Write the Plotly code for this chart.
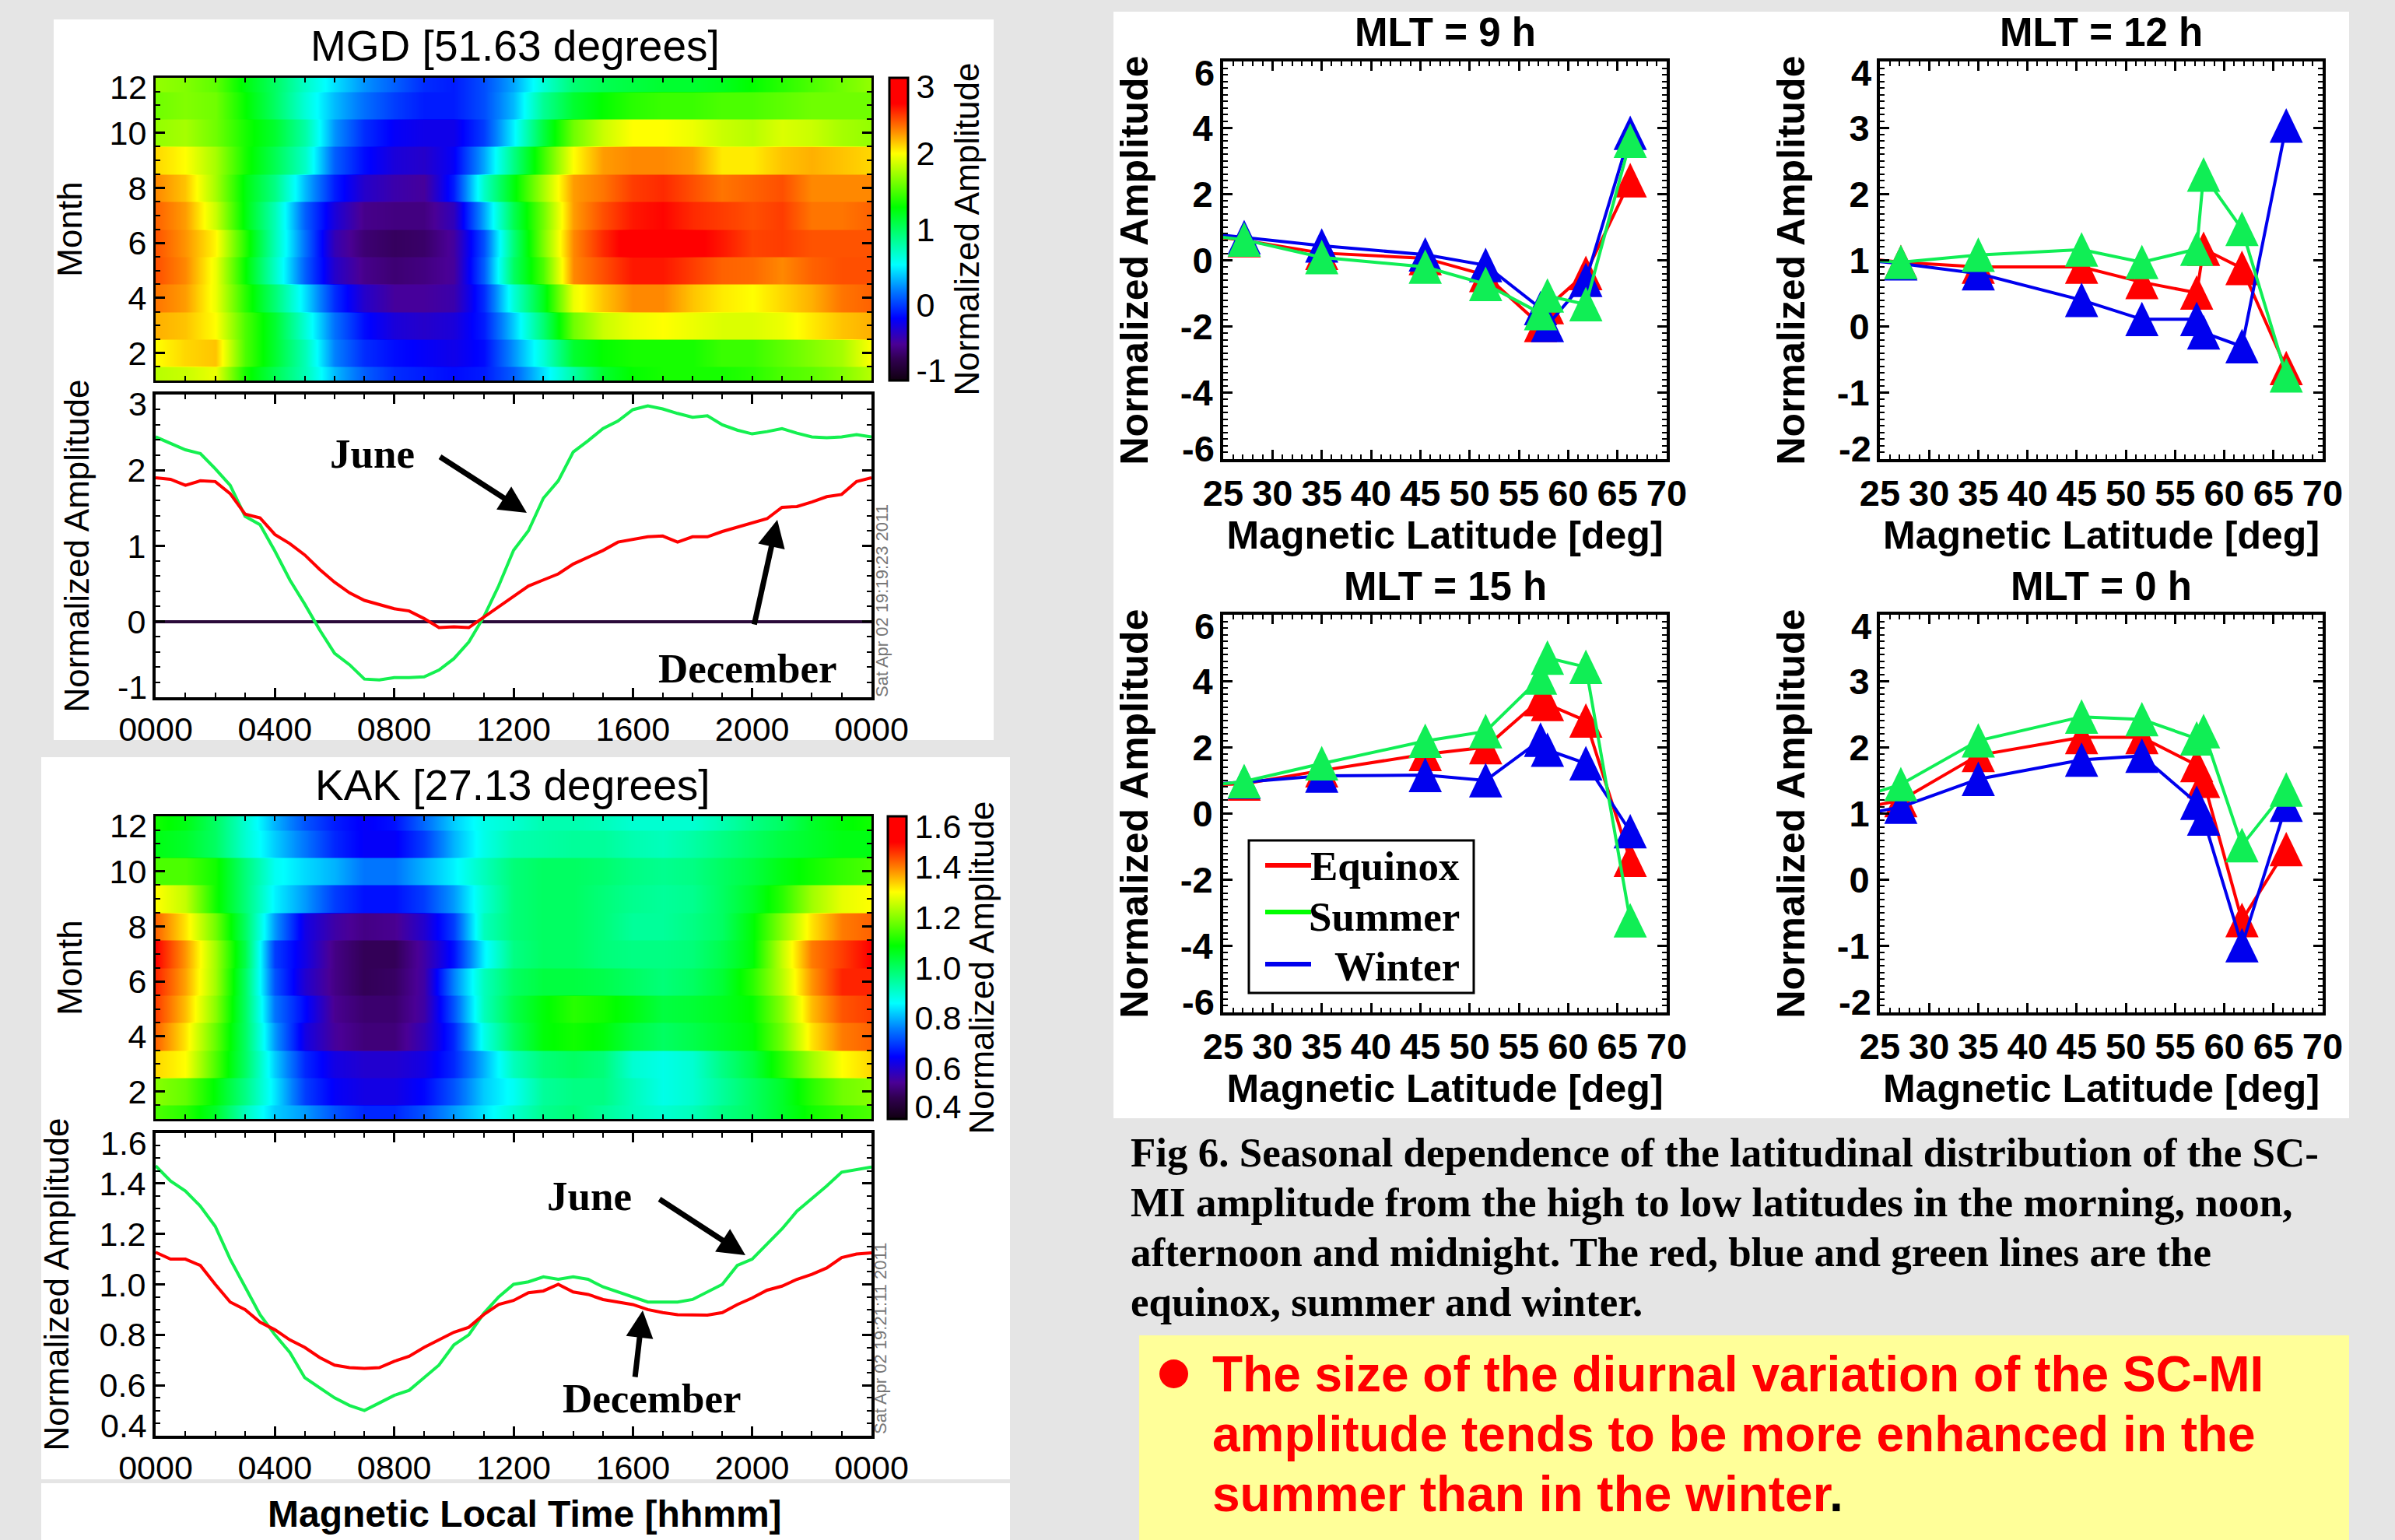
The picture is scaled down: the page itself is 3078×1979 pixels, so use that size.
import numpy as np
import plotly.graph_objects as go

W, H = 3078, 1979
SANS = "Liberation Sans"
SERIF = "Liberation Serif"
GRAY = "#e5e5e5"

# ---------- data ----------
months = list(range(1, 13))
hours = list(range(0, 25))

mgd_rows = [
 [1.8,1.85,1.95,1.35,1.05,.75,.35,.1,-.05,-.1,-.15,-.1,.1,.45,.8,1.15,1.3,1.35,1.35,1.35,1.4,1.5,1.55,1.65,1.8],
 [2.0,2.1,2.15,1.5,1.15,.75,.2,-.05,-.15,-.2,-.25,-.15,.25,.65,1.15,1.3,1.35,1.35,1.35,1.45,1.45,1.55,1.65,1.75,2.0],
 [2.2,2.15,2.0,1.5,1.15,.65,.15,-.15,-.3,-.35,-.3,-.1,.4,.95,1.6,1.85,1.95,2.0,1.95,1.9,1.9,1.95,2.05,2.15,2.2],
 [2.35,2.25,1.95,1.4,.95,.45,-.05,-.35,-.5,-.5,-.45,-.05,.65,1.2,1.95,2.15,2.3,2.3,2.15,2.05,2.0,2.1,2.2,2.35,2.4],
 [2.45,2.3,1.95,1.3,.7,.1,-.35,-.55,-.62,-.58,-.5,.1,1.0,1.5,2.3,2.45,2.6,2.6,2.5,2.4,2.38,2.3,2.4,2.45,2.45],
 [2.44,2.27,2.02,1.39,.75,.15,-.42,-.62,-.68,-.65,-.49,.06,.94,1.63,2.3,2.55,2.75,2.78,2.7,2.6,2.48,2.5,2.44,2.44,2.44],
 [2.4,2.25,1.85,1.25,.75,.1,-.3,-.55,-.58,-.58,-.4,.3,1.05,1.6,2.25,2.45,2.6,2.65,2.55,2.5,2.45,2.5,2.35,2.35,2.4],
 [2.3,2.15,1.75,1.25,.9,.35,-.1,-.35,-.45,-.5,-.1,.7,1.25,1.75,2.25,2.35,2.5,2.55,2.45,2.35,2.4,2.45,2.3,2.3,2.3],
 [2.1,2.0,1.75,1.35,1.05,.7,.1,-.15,-.3,-.35,-.2,.3,.9,1.45,2.0,2.25,2.3,2.3,2.25,2.05,2.05,2.15,2.2,2.15,2.1],
 [1.7,1.75,1.6,1.35,1.15,.8,.25,-.05,-.2,-.25,-.25,0,.5,1.1,1.6,1.85,2.0,2.0,1.95,1.85,1.8,1.9,1.85,1.75,1.7],
 [1.6,1.65,1.6,1.3,1.0,.65,.35,.15,0,-.1,-.1,.05,.35,.85,1.15,1.3,1.4,1.45,1.45,1.5,1.5,1.55,1.6,1.6,1.6],
 [1.7,1.65,1.55,1.25,1.0,.7,.45,.25,.1,-.05,-.1,.05,.3,.65,.95,1.05,1.1,1.15,1.15,1.2,1.3,1.4,1.5,1.6,1.7],
]
kak_rows = [
 [1.15,1.12,1.05,.92,.82,.78,.72,.68,.68,.72,.78,.84,.9,.96,.98,.95,.92,.9,.92,.97,1.0,1.05,1.1,1.13,1.15],
 [1.2,1.17,1.08,.97,.84,.7,.64,.62,.62,.65,.72,.82,.87,.95,.97,.97,.92,.88,.9,.95,1.0,1.05,1.12,1.18,1.2],
 [1.33,1.3,1.15,1.0,.82,.68,.62,.6,.6,.62,.68,.8,.92,.98,1.0,.98,.9,.88,.9,.97,1.03,1.12,1.22,1.3,1.33],
 [1.42,1.32,1.17,1.0,.78,.62,.55,.52,.52,.58,.68,.88,1.0,1.08,1.1,1.08,1.03,1.0,1.02,1.05,1.08,1.18,1.32,1.4,1.42],
 [1.45,1.35,1.2,1.0,.75,.65,.54,.51,.51,.56,.72,.92,1.02,1.08,1.12,1.1,1.07,1.03,1.04,1.06,1.09,1.2,1.35,1.43,1.45],
 [1.47,1.37,1.22,1.0,.72,.6,.53,.49,.5,.56,.76,.92,1.0,1.03,1.03,1.02,1.0,.98,1.0,1.04,1.12,1.24,1.38,1.47,1.47],
 [1.5,1.38,1.22,1.02,.7,.62,.53,.49,.49,.56,.66,.85,.97,1.0,1.0,.98,.97,.97,.98,1.02,1.08,1.25,1.4,1.45,1.5],
 [1.42,1.32,1.18,1.0,.78,.62,.56,.53,.54,.6,.7,.92,.98,1.0,1.0,.98,.95,.95,.97,1.0,1.08,1.2,1.32,1.4,1.42],
 [1.3,1.25,1.1,.98,.85,.78,.7,.66,.66,.7,.78,.9,.98,1.0,1.0,.98,.96,.95,.96,1.0,1.05,1.12,1.22,1.28,1.3],
 [1.15,1.15,1.1,.98,.87,.83,.8,.75,.75,.8,.85,.92,.98,1.0,1.0,.99,.97,.96,.97,1.0,1.03,1.07,1.1,1.13,1.15],
 [1.07,1.05,1.0,.9,.82,.75,.68,.64,.64,.7,.8,.88,.93,.94,.95,.95,.93,.92,.94,.97,1.0,1.03,1.05,1.07,1.07],
 [1.1,1.07,1.0,.9,.8,.72,.67,.64,.66,.74,.82,.88,.9,.93,.93,.92,.9,.9,.9,.93,.97,1.0,1.05,1.08,1.1],
]

half_hours = [i / 2 for i in range(49)]
mgd_june = [2.44,2.36,2.27,2.22,2.02,1.80,1.39,1.28,.93,.55,.23,-.11,-.42,-.57,-.76,-.77,-.74,-.74,-.73,-.64,-.49,-.27,.06,.47,.94,1.2,1.63,1.86,2.24,2.39,2.55,2.65,2.8,2.85,2.81,2.75,2.70,2.72,2.60,2.53,2.48,2.51,2.55,2.49,2.44,2.43,2.44,2.47,2.44]
mgd_dec = [1.90,1.88,1.80,1.86,1.85,1.69,1.42,1.37,1.15,1.03,.88,.69,.52,.38,.28,.23,.17,.14,.04,-.08,-.07,-.08,.06,.19,.33,.47,.55,.63,.76,.85,.94,1.05,1.09,1.12,1.13,1.05,1.12,1.12,1.19,1.25,1.31,1.36,1.51,1.52,1.58,1.65,1.68,1.85,1.90]
kak_june = [1.47,1.41,1.37,1.31,1.23,1.10,.99,.88,.80,.73,.63,.59,.55,.52,.50,.53,.56,.58,.63,.68,.76,.80,.885,.95,1.0,1.01,1.03,1.02,1.03,1.02,.99,.97,.95,.93,.93,.93,.94,.97,1.0,1.075,1.10,1.16,1.22,1.29,1.34,1.39,1.445,1.455,1.465]
kak_dec = [1.127,1.10,1.10,1.075,1.00,.93,.90,.85,.82,.78,.75,.71,.68,.67,.667,.67,.695,.715,.75,.78,.81,.83,.88,.92,.936,.967,.974,1.0,.97,.96,.94,.93,.92,.90,.888,.88,.878,.878,.888,.92,.946,.977,.993,1.02,1.04,1.065,1.106,1.12,1.125]

hhmm_labels = ["0000", "0400", "0800", "1200", "1600", "2000", "0000"]

latitudes = [22.0, 27.13, 35.0, 45.5, 51.63, 57.2, 57.9, 61.8, 66.3]
mlt9 = dict(
 eq=[.80,.60,.22,.06,-.45,-1.96,-1.42,-.39,2.41],
 wi=[.85,.69,.44,.17,-.15,-1.45,-1.96,-.6,3.84],
 su=[.80,.62,.09,-.2,-.72,-1.6,-1.07,-1.33,3.6])
mlt12 = dict(
 eq=[1.05,.97,.9,.9,.67,.51,1.17,.88,-.63],
 wi=[1.02,.95,.8,.4,.11,.11,-.09,-.3,3.03],
 su=[1.02,.97,1.08,1.16,.97,1.17,2.29,1.47,-.74])
mlt15 = dict(
 eq=[.85,.9,1.3,1.79,2.0,3.45,3.3,2.8,-1.4],
 wi=[.85,.95,1.14,1.16,1.0,2.22,1.92,1.51,-.54],
 su=[.80,.97,1.51,2.19,2.48,4.1,4.7,4.42,-3.23])
mlt0 = dict(
 eq=[1.05,1.2,1.88,2.15,2.15,1.73,1.49,-.61,.46],
 wi=[.95,1.1,1.52,1.81,1.87,1.16,.92,-.99,1.13],
 su=[1.2,1.44,2.1,2.46,2.42,2.13,2.24,.52,1.36])

stops = [(0, "#100010"), (.07, "#300050"), (.12, "#4a0095"), (.205, "#0000ff"), (.30, "#0080ff"),
         (.3825, "#00ffff"), (.4775, "#00ff80"), (.5725, "#00ff00"), (.75, "#ffff00"),
         (.83, "#ff8000"), (.915, "#ff0000"), (1, "#ff0000")]

# ---------- helpers ----------
def fx(p): return p / W
def fy(p): return 1 - p / H
def xid(n): return "x" if n == 1 else f"x{n}"
def yid(n): return "y" if n == 1 else f"y{n}"
def font(size, bold=False, family=SANS, color="black"):
    return dict(size=size, family=family, color=color, weight="bold" if bold else "normal")

fig = go.Figure()
layout = dict(width=W, height=H, margin=dict(l=0, r=0, t=0, b=0, autoexpand=False), autosize=False,
              template="none", paper_bgcolor=GRAY, plot_bgcolor="white", showlegend=False)
anns, shapes = [], []

def text(t, x, y, size, bold=False, family=SANS, color="black", angle=0, anchor="center"):
    anns.append(dict(text=t, x=fx(x), y=fy(y), xref="paper", yref="paper", showarrow=False,
                     xanchor=anchor, yanchor="middle", font=font(size, bold, family, color), textangle=angle))

def arrow(x0, y0, x1, y1):
    anns.append(dict(text="", x=fx(x1), y=fy(y1), xref="paper", yref="paper", showarrow=True,
                     ax=x0 - x1, ay=y0 - y1, arrowhead=2, arrowsize=1.0, arrowwidth=7, arrowcolor="black", standoff=0))

def rect(x0, y0, x1, y1, color):
    shapes.append(dict(type="rect", xref="paper", yref="paper", x0=fx(x0), x1=fx(x1), y0=fy(y0), y1=fy(y1),
                       fillcolor=color, line_width=0, layer="below"))

def axes(n, box, xr, yr, xmajor, xminor, ymajor, yminor, xlab=None, ylab=None, yshift=(0, 0),
         size=43, bold=False, lw=3, ytitle=None, ystand=0, xtitle=None, xstand=0, tsize=44, tlen=12):
    x0, y0, x1, y1 = box
    # labels at the two ends of the y axis sit inside the frame, as in the original
    ytext = list(ylab) if ylab else None
    if ylab:
        for idx, sh in ((0, yshift[0]), (-1, yshift[1])):
            if sh:
                anns.append(dict(text=ytext[idx], x=0, xref=f"{xid(n)} domain", y=ymajor[idx], yref=yid(n),
                                 xanchor="right", yanchor="middle", xshift=-9, yshift=sh, showarrow=False,
                                 font=font(size, bold)))
                ytext[idx] = " "
    xa = dict(domain=[fx(x0), fx(x1)], range=xr, anchor=yid(n), showgrid=False, zeroline=False, automargin=False,
              showline=True, linecolor="black", linewidth=lw, mirror="ticks", ticks="inside", ticklen=tlen,
              tickwidth=3, tickcolor="black", tickmode="array", tickvals=xmajor,
              ticktext=xlab if xlab else [""] * len(xmajor), tickfont=font(size, bold), tickangle=0,
              minor=dict(tickmode="array", tickvals=xminor, ticks="inside", ticklen=tlen // 2, tickwidth=2, tickcolor="black"))
    ya = dict(domain=[fy(y1), fy(y0)], range=yr, anchor=xid(n), showgrid=False, zeroline=False, automargin=False,
              showline=True, linecolor="black", linewidth=lw, mirror="ticks", ticks="inside", ticklen=tlen,
              tickwidth=3, tickcolor="black", tickmode="array", tickvals=ymajor, ticktext=ytext,
              tickfont=font(size, bold),
              minor=dict(tickmode="array", tickvals=yminor, ticks="inside", ticklen=tlen // 2, tickwidth=2, tickcolor="black"))
    if ytitle:
        ya["title"] = dict(text=ytitle, standoff=ystand, font=font(tsize, bold))
    if xtitle:
        xa["title"] = dict(text=xtitle, standoff=xstand, font=font(tsize, bold))
    layout[f"xaxis{n}"] = xa
    layout[f"yaxis{n}"] = ya
    return xa, ya

def heat(n, rows, box, zr, cb_x, cbvals, cbtext, cbtitle, ytitle, ystand):
    x0, y0, x1, y1 = box
    e = 0.03
    edges = [0.5]
    for m in months:
        edges += [m - .5 + e, m + .5 - e, m + .5]
    z = np.repeat(np.array(rows), 3, axis=0)
    fig.add_trace(go.Heatmap(x=hours, y=edges, z=z, zmin=zr[0], zmax=zr[1], colorscale=stops, zsmooth="best",
        xaxis=xid(n), yaxis=yid(n), showlegend=False,
        colorbar=dict(x=fx(cb_x), xanchor="left", y=fy(y1), yanchor="bottom", len=(y1 - y0) / H, lenmode="fraction",
                      thickness=24, thicknessmode="pixels", outlinecolor="black", outlinewidth=3, xpad=0, ypad=0,
                      ticks="", tickmode="array", tickvals=cbvals, ticktext=cbtext, tickfont=font(43),
                      title=dict(text=cbtitle, side="right", font=font(44)))))
    axes(n, box, [0, 24], [1, 12], list(range(0, 25, 4)), list(range(0, 25)),
         [2, 4, 6, 8, 10, 12], [m / 2 for m in range(2, 25)],
         ylab=["2", "4", "6", "8", "10", "12"], yshift=(0, -12), ytitle=ytitle, ystand=ystand)

def lines(n, june, dec, box, yr, ymajor, yminor, ylab, yshift, ytitle, ystand, zero=False):
    fig.add_trace(go.Scatter(x=half_hours, y=june, mode="lines", line=dict(color="#14f050", width=4),
                             xaxis=xid(n), yaxis=yid(n), showlegend=False, name="June"))
    fig.add_trace(go.Scatter(x=half_hours, y=dec, mode="lines", line=dict(color="#ff0000", width=4),
                             xaxis=xid(n), yaxis=yid(n), showlegend=False, name="December"))
    xa, ya = axes(n, box, [0, 24], yr, list(range(0, 25, 4)), list(range(0, 25)), ymajor, yminor,
                  xlab=hhmm_labels, ylab=ylab, yshift=yshift, ytitle=ytitle, ystand=ystand, lw=4, tsize=44)
    if zero:
        ya.update(zeroline=True, zerolinecolor="#2a0a3a", zerolinewidth=4)

def lat_panel(n, data, box, yr, ymajor, yminor, ylab, title):
    colors = dict(eq="#ff0000", wi="#0000ee", su="#10ee55")
    names = dict(eq="Equinox", wi="Winter", su="Summer")
    for k in ("eq", "wi", "su"):
        fig.add_trace(go.Scatter(x=latitudes, y=data[k], mode="lines+markers", name=names[k],
                                 line=dict(color=colors[k], width=4),
                                 marker=dict(symbol="triangle-up", size=37, color=colors[k], line_width=0),
                                 xaxis=xid(n), yaxis=yid(n), showlegend=False))
    axes(n, box, [25, 70], yr, list(range(25, 71, 5)), list(range(25, 71)), ymajor, yminor,
         xlab=[str(v) for v in range(25, 71, 5)], ylab=ylab, yshift=(14, -14), size=47, bold=True,
         ytitle="Normalized Amplitude", ystand=26, xtitle="Magnetic Latitude [deg]", xstand=0, tsize=50, lw=4)
    text(title, (box[0] + box[2]) / 2, box[1] - 37, 51, True)

# ---------- backgrounds ----------
rect(69, 25, 1277, 951, "white")
rect(53, 973, 1298, 1901, "white")
rect(53, 1906, 1298, 1979, "white")
rect(1431, 15, 3019, 1437, "white")
rect(1464, 1716, 3019, 1979, "#ffff99")

# ---------- left column ----------
heat(1, mgd_rows, (200, 100, 1120, 489), (-1, 3), 1143, [2.89, 2, 1, 0, -.87], ["3", "2", "1", "0", "-1"],
     "Normalized Amplitude", "Month", 22)
lines(2, mgd_june, mgd_dec, (200, 507, 1120, 896), [-1, 3], [-1, 0, 1, 2, 3], [v / 5 for v in range(-5, 16)],
      ["-1", "0", "1", "2", "3"], (13, -12), "Normalized Amplitude", 36, zero=True)
heat(3, kak_rows, (200, 1049, 1120, 1438), (.4, 1.6), 1141, [1.56, 1.4, 1.2, 1.0, .8, .6, .45],
     ["1.6", "1.4", "1.2", "1.0", "0.8", "0.6", "0.4"], "Normalized Amplitude", "Month", 22)
lines(4, kak_june, kak_dec, (200, 1456, 1120, 1845), [.4, 1.6], [.4, .6, .8, 1.0, 1.2, 1.4, 1.6],
      [v / 20 for v in range(8, 33)], ["0.4", "0.6", "0.8", "1.0", "1.2", "1.4", "1.6"], (13, -13),
      "Normalized Amplitude", 26)
text("Magnetic Local Time [hhmm]", 674, 1945, 48, True)

text("MGD [51.63 degrees]", 662, 59, 55)
text("KAK [27.13 degrees]", 659, 1009, 55)
text("June", 478, 583, 53, True, SERIF)
text("December", 961, 859, 53, True, SERIF)
text("June", 757, 1537, 53, True, SERIF)
text("December", 838, 1797, 53, True, SERIF)
arrow(564, 586, 677, 659)
arrow(969, 804, 999, 668)
arrow(846, 1540, 958, 1613)
arrow(816, 1771, 826, 1684)
text("Sat Apr 02 19:19:23 2011", 1133, 772, 22, color="#777777", angle=-90)
text("Sat Apr 02 19:21:11 2011", 1131, 1720, 22, color="#777777", angle=-90)

# ---------- right column ----------
big = [-6, -4, -2, 0, 2, 4, 6]
big_minor = [v / 5 for v in range(-30, 31)]
small = [-2, -1, 0, 1, 2, 3, 4]
small_minor = [v / 10 for v in range(-20, 41)]
lat_panel(5, mlt9, (1572, 79, 2142, 590), [-6, 6], big, big_minor, [str(v) for v in big], "MLT = 9 h")
lat_panel(6, mlt12, (2416, 79, 2985, 590), [-2, 4], small, small_minor, [str(v) for v in small], "MLT = 12 h")
lat_panel(7, mlt15, (1572, 790, 2142, 1301), [-6, 6], big, big_minor, [str(v) for v in big], "MLT = 15 h")
lat_panel(8, mlt0, (2416, 790, 2985, 1301), [-2, 4], small, small_minor, [str(v) for v in small], "MLT = 0 h")

# legend key, inside the MLT = 15 h panel
shapes.append(dict(type="rect", xref="paper", yref="paper", x0=fx(1605), x1=fx(1894), y0=fy(1080), y1=fy(1276),
                   fillcolor="white", line=dict(color="black", width=3), layer="above"))
for label, col, ly, ty in (("Equinox", "#ff0000", 1112, 1113), ("Summer", "#00ff00", 1172, 1178), ("Winter", "#0000ee", 1239, 1242)):
    shapes.append(dict(type="line", xref="paper", yref="paper", x0=fx(1626), x1=fx(1685), y0=fy(ly), y1=fy(ly),
                       line=dict(color=col, width=6), layer="above"))
    text(label, 1878, ty, 53, True, SERIF, anchor="right")

caption = ["Fig 6. Seasonal dependence of the latitudinal distribution of the SC-",
           "MI amplitude from the high to low latitudes in the morning, noon,",
           "afternoon and midnight. The red, blue and green lines are the",
           "equinox, summer and winter."]
for i, line in enumerate(caption):
    text(line, 1451, 1481 + i * 64, 53, True, SERIF, anchor="left")

note = ["The size of the diurnal variation of the SC-MI", "amplitude tends to be more enhanced in the",
        "summer than in the winter<span style=\"color:black\">.</span>"]
for i, line in enumerate(note):
    text(line, 1556, 1766 + i * 77, 64, True, SANS, "#ff0000", anchor="left")
shapes.append(dict(type="circle", xref="paper", yref="paper", x0=fx(1490), x1=fx(1527), y0=fy(1784), y1=fy(1747),
                   fillcolor="#ff0000", line_width=0, layer="above"))

layout["annotations"] = anns
layout["shapes"] = shapes
fig.update_layout(**layout)

# the original triangles are as tall as they are wide, centred on the point
post = """
document.documentElement.style.background='#e5e5e5';
document.body.style.margin='0';
document.querySelectorAll('.scatterlayer .points path.point').forEach(function(p){
  p.setAttribute('transform',(p.getAttribute('transform')||'')+' translate(0,7) scale(1,1.6)');
});
"""
fig.write_html("out.html", post_script=post, config=dict(displayModeBar=False, responsive=False))
